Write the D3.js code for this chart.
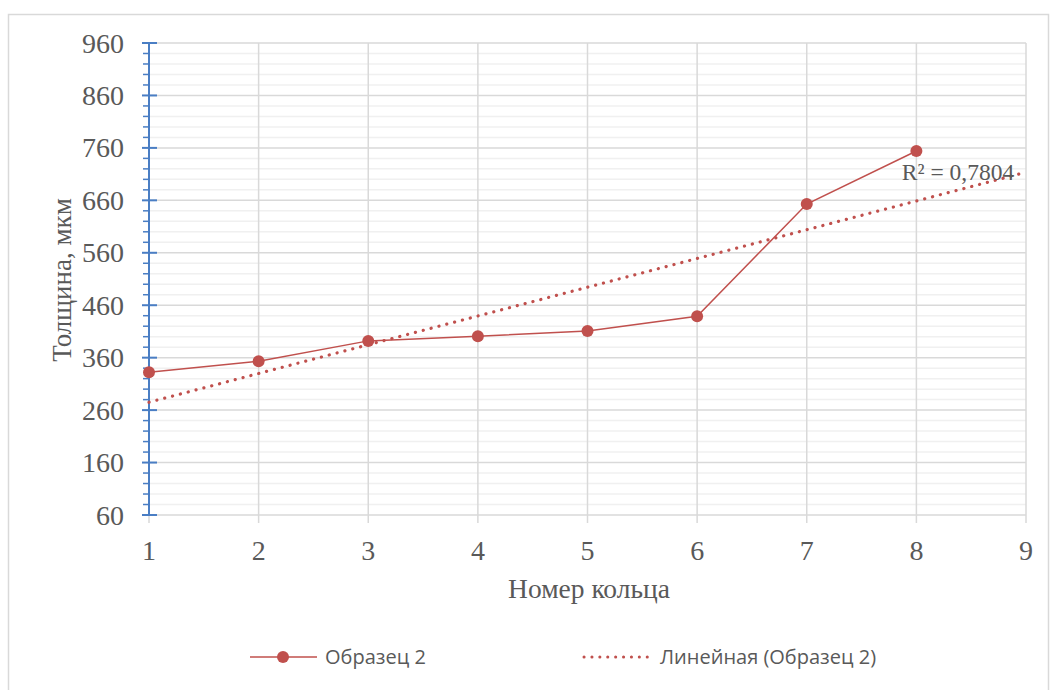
<!DOCTYPE html>
<html><head><meta charset="utf-8">
<script src="https://cdn.jsdelivr.net/npm/d3@7"></script>
<style>body{margin:0;background:#fff}svg{display:block}</style>
</head><body>
<svg id="c" width="1053" height="690"></svg>
<script>
const ringNumbers = [1, 2, 3, 4, 5, 6, 7, 8];
const thickness = [332, 353, 392, 401, 411, 439, 653, 754];
const yTicks = [60, 160, 260, 360, 460, 560, 660, 760, 860, 960];
const xTicks = [1, 2, 3, 4, 5, 6, 7, 8, 9];
const seriesName = "Образец 2";
const trendName = "Линейная (Образец 2)";
const r2Label = "R² = 0,7804";
const xTitle = "Номер кольца";
const yTitle = "Толщина, мкм";

const svg = d3.select("#c");
const serif = "'Liberation Serif','Times New Roman',serif";
const sans = "'Open Sans','Noto Sans',sans-serif";
const textCol = "#595959";
const red = "#C0504D";

svg.append("rect").attr("x", 8.5).attr("y", 14.5).attr("width", 1040).attr("height", 700)
  .attr("fill", "#fff").attr("stroke", "#D9D9D9").attr("stroke-width", 1.5);

const x = d3.scaleLinear().domain([1, 9]).range([149, 1026]);
const y = d3.scaleLinear().domain([60, 960]).range([515, 43]);

const g = svg.append("g");
const minor = d3.range(60, 961, 20).filter(v => (v - 60) % 100 !== 0);
g.selectAll(".mn").data(minor).enter().append("line")
  .attr("x1", x(1)).attr("x2", x(9)).attr("y1", d => y(d)).attr("y2", d => y(d))
  .attr("stroke", "#F0F0F0").attr("stroke-width", 1.5);
g.selectAll(".mj").data(yTicks).enter().append("line")
  .attr("x1", x(1)).attr("x2", x(9)).attr("y1", d => y(d)).attr("y2", d => y(d))
  .attr("stroke", "#D9D9D9").attr("stroke-width", 1.5);
g.selectAll(".vg").data(xTicks).enter().append("line")
  .attr("x1", d => x(d)).attr("x2", d => x(d)).attr("y1", y(960)).attr("y2", y(60) + 8)
  .attr("stroke", "#D9D9D9").attr("stroke-width", 1.5);

const axisCol = "#4A7EC4";
const yAxisG = svg.append("g");
yAxisG.append("line").attr("x1", x(1)).attr("x2", x(1)).attr("y1", y(960)).attr("y2", y(60))
  .attr("stroke", axisCol).attr("stroke-width", 2);
yAxisG.selectAll(".mt").data(yTicks).enter().append("line")
  .attr("x1", x(1) - 7).attr("x2", x(1) + 8).attr("y1", d => y(d)).attr("y2", d => y(d))
  .attr("stroke", axisCol).attr("stroke-width", 2);
yAxisG.selectAll(".nt").data(minor).enter().append("line")
  .attr("x1", x(1) - 6).attr("x2", x(1)).attr("y1", d => y(d)).attr("y2", d => y(d))
  .attr("stroke", axisCol).attr("stroke-width", 1.5);

svg.selectAll(".yl").data(yTicks).enter().append("text")
  .attr("x", 124).attr("y", d => y(d)).attr("dy", "0.34em").attr("text-anchor", "end")
  .attr("font-family", serif).attr("font-size", 28).attr("fill", textCol).text(d => d);
svg.selectAll(".xl").data(xTicks).enter().append("text")
  .attr("x", d => x(d)).attr("y", 560).attr("text-anchor", "middle")
  .attr("font-family", serif).attr("font-size", 28).attr("fill", textCol).text(d => d);

svg.append("text").attr("x", 589).attr("y", 598).attr("text-anchor", "middle")
  .attr("font-family", serif).attr("font-size", 27.5).attr("fill", textCol).text(xTitle);
svg.append("text").attr("transform", `translate(71,${y(508)}) rotate(-90)`).attr("text-anchor", "middle")
  .attr("font-family", serif).attr("font-size", 27).attr("fill", textCol).text(yTitle);

// linear trend: least-squares fit of the series
const mx = d3.mean(ringNumbers), my = d3.mean(thickness);
const sxy = d3.sum(ringNumbers, (v, i) => (v - mx) * (thickness[i] - my));
const sxx = d3.sum(ringNumbers, v => (v - mx) ** 2);
const slope = sxy / sxx, icpt = my - slope * mx;
const trendPts = [1, 9].map(v => [v, icpt + slope * v]);
svg.append("path").datum(trendPts)
  .attr("d", d3.line().x(d => x(d[0])).y(d => y(d[1])))
  .attr("fill", "none").attr("stroke", red).attr("stroke-width", 3.2)
  .attr("stroke-linecap", "round").attr("stroke-dasharray", "0.1 8");

const pts = ringNumbers.map((v, i) => [v, thickness[i]]);
svg.append("path").datum(pts)
  .attr("d", d3.line().x(d => x(d[0])).y(d => y(d[1])))
  .attr("fill", "none").attr("stroke", red).attr("stroke-width", 1.5);
svg.selectAll(".pt").data(pts).enter().append("circle")
  .attr("cx", d => x(d[0])).attr("cy", d => y(d[1])).attr("r", 6).attr("fill", red);

svg.append("text").attr("x", 958).attr("y", 180).attr("text-anchor", "middle")
  .attr("font-family", serif).attr("font-size", 23.5).attr("fill", textCol).text(r2Label);

const lg = svg.append("g");
lg.append("line").attr("x1", 250).attr("x2", 317).attr("y1", 657).attr("y2", 657)
  .attr("stroke", red).attr("stroke-width", 1.5);
lg.append("circle").attr("cx", 283).attr("cy", 657).attr("r", 6).attr("fill", red);
lg.append("text").attr("x", 325).attr("y", 657).attr("dy", "0.36em")
  .attr("font-family", sans).attr("font-size", 20).attr("fill", textCol).text(seriesName);
lg.append("line").attr("x1", 584).attr("x2", 655).attr("y1", 657).attr("y2", 657)
  .attr("stroke", red).attr("stroke-width", 3).attr("stroke-linecap", "round").attr("stroke-dasharray", "0.1 7.8");
lg.append("text").attr("x", 660).attr("y", 657).attr("dy", "0.36em")
  .attr("font-family", sans).attr("font-size", 20).attr("fill", textCol).text(trendName);
</script>
</body></html>
